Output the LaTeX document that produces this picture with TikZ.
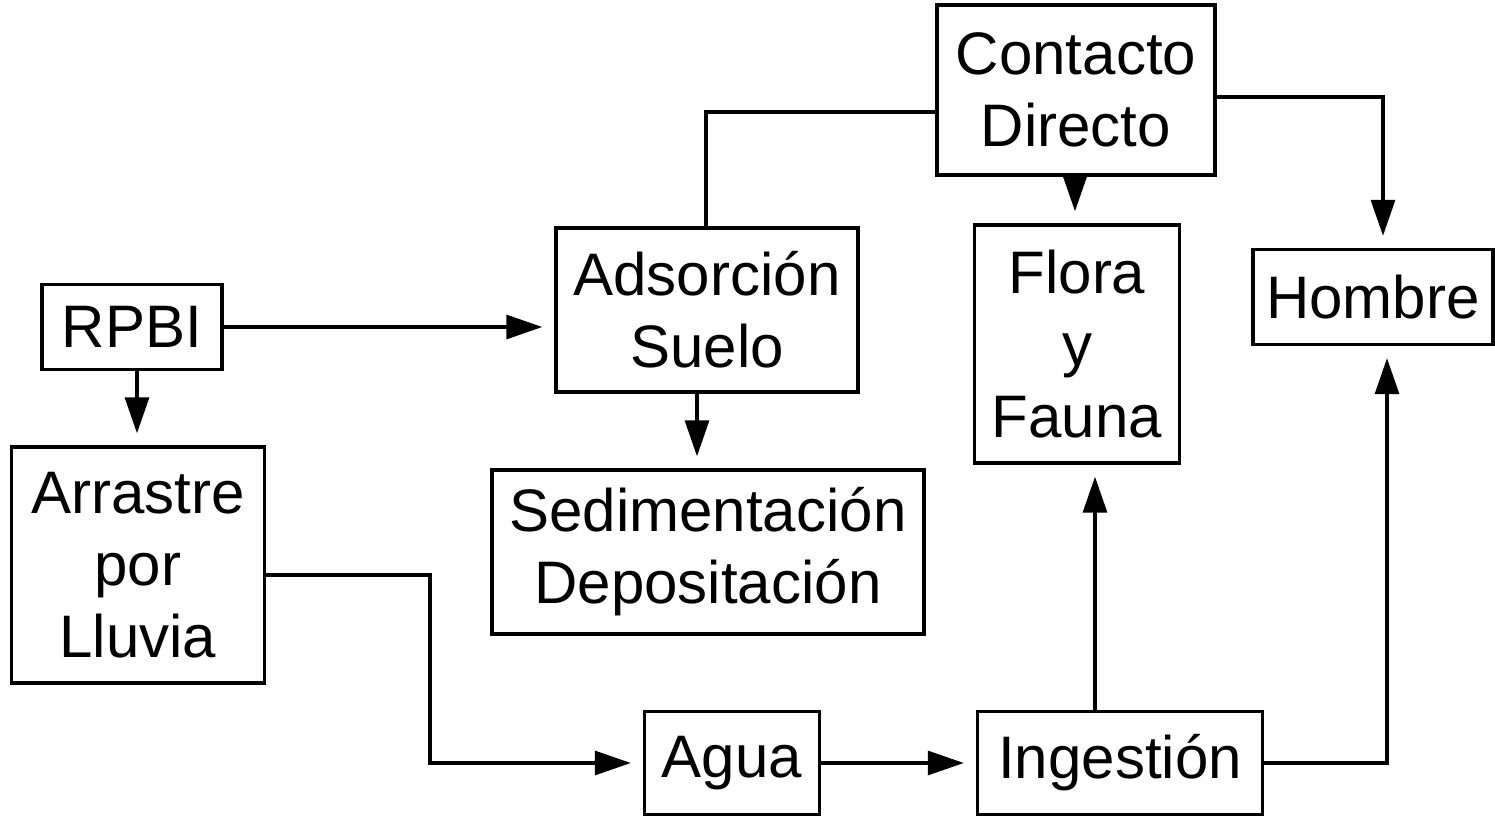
\documentclass[tikz,border=0pt]{standalone}
\usepackage{fontspec}
\setmainfont{Liberation Sans}
\usetikzlibrary{arrows.meta}
\begin{document}
\begin{tikzpicture}[x=0.5pt,y=-0.5pt,
  box/.style={draw,line width=1.7pt,inner sep=0pt,align=center,font=\fontsize{30}{36}\selectfont},
  conn/.style={line width=1.6pt},
  arr/.style={conn,-{Triangle[length=18pt,width=12pt]},shorten >=6pt}]
\useasboundingbox (0,0) rectangle (1495,820);
\node[box,minimum width=90pt,minimum height=42.5pt] (rpbi) at (132,327) {RPBI};
\node[box,minimum width=126.5pt,minimum height=118pt] (arr) at (138,565) {Arrastre\\por\\Lluvia};
\node[box,minimum width=151pt,minimum height=82pt] (ads) at (707,310) {Adsorción\\Suelo};
\node[box,minimum width=216pt,minimum height=82pt] (sed) at (708,552) {Sedimentación\\Depositación};
\node[box,minimum width=139pt,minimum height=85pt] (con) at (1076,90) {Contacto\\Directo};
\node[box,minimum width=102.5pt,minimum height=119pt] (flo) at (1077,344) {Flora\\y\\Fauna};
\node[box,minimum width=120pt,minimum height=47.5pt] (hom) at (1373,297) {Hombre};
\node[box,minimum width=87.5pt,minimum height=51.5pt] (agu) at (732,763) {Agua};
\node[box,minimum width=142.5pt,minimum height=51.5pt] (ing) at (1120,763) {Ingestión};
% connectors
\draw[arr] (rpbi.east) -- (rpbi.east -| ads.west);
\draw[arr] (rpbi.south -| 137,0) -- (137,0 |- arr.north);
\draw[arr] (arr.east |- 0,575) -- (430,575) |- (agu.west);
\draw[arr] (agu.east) -- (ing.west);
\draw[arr] (1095,0 |- ing.north) -- (1095,0 |- flo.south);
\draw[arr] (ing.east) -| (1387,0 |- hom.south);
\draw[arr] (697,0 |- ads.south) -- (697,0 |- sed.north);
\draw[conn] (706,0 |- ads.north) -- (706,112) -- (con.west |- 0,112);
\draw[arr] (1075,0 |- con.south) -- (1075,0 |- flo.north);
\draw[arr] (con.east |- 0,97) -| (1383,0 |- hom.north);
\end{tikzpicture}
\end{document}
